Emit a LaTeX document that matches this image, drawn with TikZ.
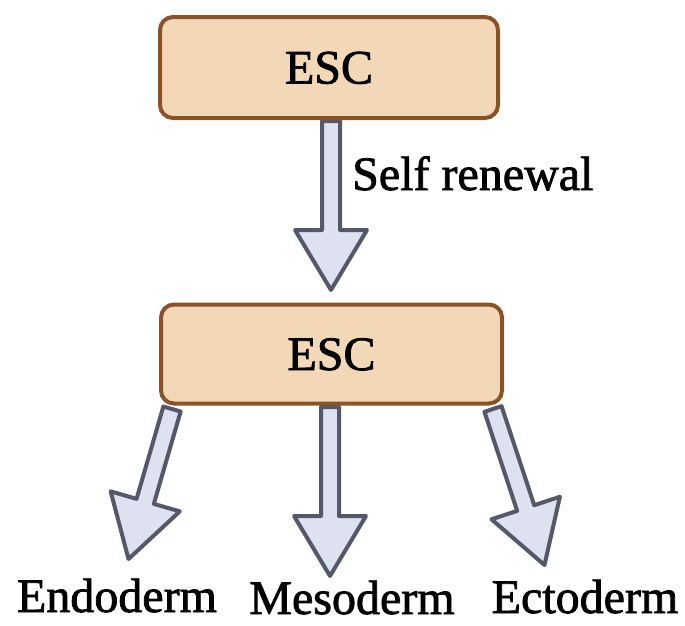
\documentclass[tikz,border=0pt]{standalone}
\usepackage{fontspec}
\setmainfont{Liberation Serif}
\newfontfamily\labfont{Liberation Serif}[FakeBold=1.6]
\usetikzlibrary{calc}
\definecolor{boxfill}{HTML}{F2D8B6}
\definecolor{boxline}{HTML}{8A5327}
\definecolor{arrfill}{HTML}{DDE1F0}
\definecolor{arrline}{HTML}{545868}
\tikzset{
  cellbox/.style={draw=boxline, fill=boxfill, line width=4pt, rounded corners=13pt,
    text height=32pt, text depth=0pt, font=\fontsize{48}{50}\labfont},
  arr/.style={draw=arrline, fill=arrfill, line width=4pt, line join=round},
  lbl/.style={font=\fontsize{48}{50}\labfont, inner sep=0pt}
}
\newcommand\fatarrow[2]{%
  \path (#2) coordinate (tp) ($(#2)!60pt!(#1)$) coordinate (hb);
  \draw[arr] ($(#1)!9pt!-90:(tp)$) -- ($(hb)!9pt!-90:(tp)$) -- ($(hb)!36pt!-90:(tp)$)
    -- (tp) -- ($(hb)!36pt!90:(tp)$) -- ($(hb)!9pt!90:(tp)$) -- ($(#1)!9pt!90:(tp)$) -- cycle;
}
\begin{document}
\begin{tikzpicture}[x=1pt,y=-1pt]
\useasboundingbox (0,0) rectangle (685,625);
% arrow ends
\coordinate (s0) at (331,121);
\coordinate (t0) at (331,290);
\coordinate (s1) at (172,409);
\coordinate (t1) at (128.5,559);
\coordinate (s2) at (330,407);
\coordinate (t2) at (330,576);
\coordinate (s3) at (493,409);
\coordinate (t3) at (544.5,565);
\fatarrow{s0}{t0}
\fatarrow{s1}{t1}
\fatarrow{s2}{t2}
\fatarrow{s3}{t3}
\node[cellbox, minimum width=338pt, minimum height=101pt] (esc1) at (329,67.5) {ESC};
\node[cellbox, minimum width=341pt, minimum height=99pt] (esc2) at (331.5,354) {ESC};
\node[lbl, anchor=base west] (self) at (352,190) {Self renewal};
\node[lbl, anchor=base] (endo) at (117,612) {Endoderm};
\node[lbl, anchor=base] (meso) at (352,614) {Mesoderm};
\node[lbl, anchor=base] (ecto) at (585,613) {Ectoderm};
\end{tikzpicture}
\end{document}
